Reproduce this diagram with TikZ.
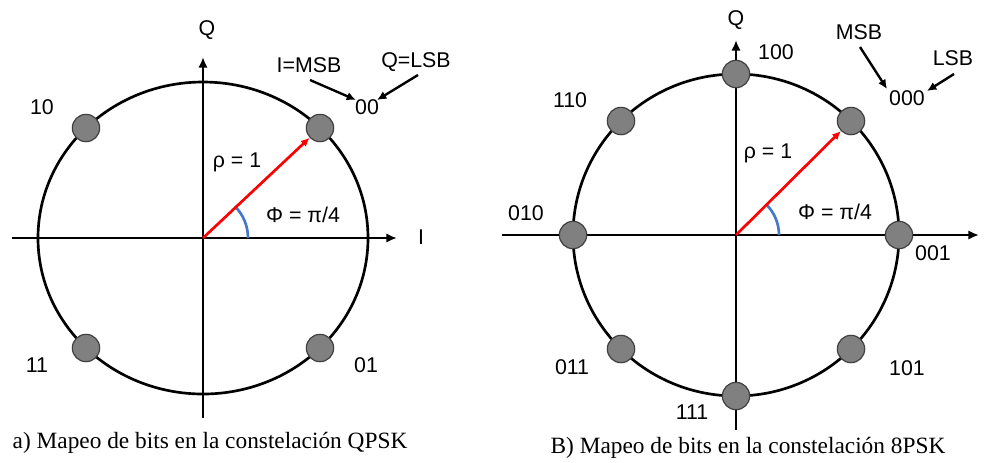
\documentclass[tikz,border=0pt]{standalone}
\usepackage{fontspec}
\setmainfont{Liberation Sans}
\newfontfamily\capfont{Liberation Serif}
\usetikzlibrary{arrows.meta}
\definecolor{angblue}{RGB}{70,120,200}
\begin{document}
\begin{tikzpicture}[x=0.75pt,y=-0.75pt,
  axis/.style={line width=2pt,-{Latex[length=8pt,width=7pt]}},
  ring/.style={line width=2pt},
  dot/.style={circle,draw=black!75,fill=black!50,line width=0.9pt,minimum size=20.5pt,inner sep=0pt},
  lbl/.style={font=\fontsize{16}{18}\selectfont,inner sep=0pt},
  captext/.style={font=\capfont\fontsize{17.5}{20}\selectfont,inner sep=0pt},
  vec/.style={draw=red,line width=2pt,-{Latex[length=6.5pt,width=6pt]}},
  ang/.style={draw=angblue,line width=2pt},
  ptr/.style={line width=1.8pt,-{Latex[length=7pt,width=6.5pt]}}]
\useasboundingbox (0,0) rectangle (987,462);
\fill[white] (0,0) rectangle (987,462);

% ---------------- QPSK ----------------
\coordinate (O1) at (203,238);
\coordinate (x1l) at (12,238);
\coordinate (x1r) at (397,238);
\coordinate (y1b) at (203,418);
\coordinate (y1t) at (203,57);
\draw[axis] (x1l) -- (x1r);
\draw[axis] (y1b) -- (y1t);
\draw[ring] (O1) ellipse [x radius=123.75pt, y radius=117pt];
\node[dot] (q00) at (320,128) {};
\node[dot] (q10) at (86,128) {};
\node[dot] (q11) at (86,348) {};
\node[dot] (q01) at (320,348) {};
\draw[ang] ([xshift=33.75pt]O1) arc[start angle=0,end angle=45,radius=33.75pt];
\draw[vec] (O1) -- (q00);

\node[lbl] (qQ) at (207,30) {Q};
\node[lbl] (qI) at (421,237) {I};
\node[lbl] (l10) at (42,107) {10};
\node[lbl] (l00) at (367,107) {00};
\node[lbl] (l11) at (37,365) {11};
\node[lbl] (l01) at (366,365) {01};
\node[lbl] (lMSB) at (309,65) {I=MSB};
\node[lbl] (lLSB) at (416,62) {Q=LSB};
\node[lbl] (rho1) at (237,162) {ρ = 1};
\node[lbl] (phi1) at (303,215) {Φ = π/4};
\coordinate (a1s) at (310,80);
\coordinate (a1e) at (356,100);
\coordinate (a2s) at (418,75);
\coordinate (a2e) at (377,100);
\draw[ptr] (a1s) -- (a1e);
\draw[ptr] (a2s) -- (a2e);
\node[captext] (capA) at (210,443) {a) Mapeo de bits en la constelación QPSK};

% ---------------- 8PSK ----------------
\coordinate (O2) at (736,235);
\coordinate (x2l) at (502,235);
\coordinate (x2r) at (979,235);
\coordinate (y2b) at (736,430);
\coordinate (y2t) at (736,40);
\draw[axis] (x2l) -- (x2r);
\draw[axis] (y2b) -- (y2t);
\draw[ring] (O2) ellipse [x radius=122.25pt, y radius=120.75pt];
\node[dot] (p100) at (736,74) {};
\node[dot] (p000) at (851,121) {};
\node[dot] (p001) at (899,235) {};
\node[dot] (p101) at (851,349) {};
\node[dot] (p111) at (736,396) {};
\node[dot] (p011) at (621,349) {};
\node[dot] (p010) at (573,235) {};
\node[dot] (p110) at (621,121) {};
\draw[ang] ([xshift=32.25pt]O2) arc[start angle=0,end angle=45,radius=32.25pt];
\draw[vec] (O2) -- (p000);

\node[lbl] (pQ) at (736,20) {Q};
\node[lbl] (m100) at (776,52) {100};
\node[lbl] (m110) at (570,100) {110};
\node[lbl] (m010) at (526,213) {010};
\node[lbl] (m001) at (933,253) {001};
\node[lbl] (m101) at (907,368) {101};
\node[lbl] (m011) at (572,367) {011};
\node[lbl] (m111) at (692,412) {111};
\node[lbl] (m000) at (907,98) {000};
\node[lbl] (mMSB) at (859,32) {MSB};
\node[lbl] (mLSB) at (953,58) {LSB};
\node[lbl] (rho2) at (768,153) {ρ = 1};
\node[lbl] (phi2) at (835,212) {Φ = π/4};
\coordinate (b1s) at (860,47);
\coordinate (b1e) at (887,89);
\coordinate (b2s) at (954,74);
\coordinate (b2e) at (927,91);
\draw[ptr] (b1s) -- (b1e);
\draw[ptr] (b2s) -- (b2e);
\node[captext] (capB) at (748,448) {B) Mapeo de bits en la constelación 8PSK};
\end{tikzpicture}
\end{document}
